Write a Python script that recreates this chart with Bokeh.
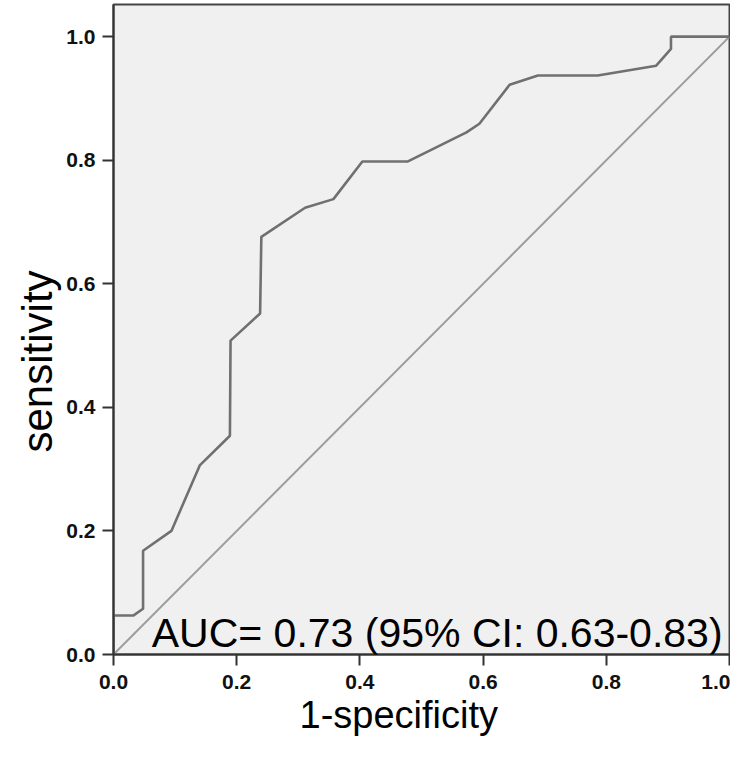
from bokeh.plotting import figure
from bokeh.models import Label, FixedTicker, Title
from bokeh.embed import file_html
from bokeh.resources import INLINE

# ROC curve points (1-specificity, sensitivity)
fpr = [0.0, 0.0, 0.032, 0.048, 0.048, 0.094, 0.14, 0.189, 0.19, 0.238, 0.24,
       0.311, 0.357, 0.404, 0.478, 0.573, 0.594, 0.643, 0.689, 0.786, 0.881,
       0.905, 0.905, 1.0]
tpr = [0.0, 0.063, 0.063, 0.074, 0.168, 0.2, 0.306, 0.354, 0.508, 0.552, 0.676,
       0.723, 0.737, 0.798, 0.798, 0.845, 0.859, 0.922, 0.937, 0.937, 0.953,
       0.98, 1.0, 1.0]
ref_x = [0.0, 1.0]
ref_y = [0.0, 1.0]
ticks = [0.0, 0.2, 0.4, 0.6, 0.8, 1.0]
tick_labels = {0.0: "0.0", 0.2: "0.2", 0.4: "0.4", 0.6: "0.6", 0.8: "0.8", 1.0: "1.0"}
auc_text = "AUC= 0.73 (95% CI: 0.63-0.83)"
x_title = "1-specificity"
y_title = "sensitivity"

p = figure(width=730, height=741, output_backend="svg", toolbar_location=None,
           x_range=(0, 1.0), y_range=(0, 1.052),
           min_border_left=113, min_border_right=1, min_border_top=4,
           min_border_bottom=87)
p.background_fill_color = "#f0f0f0"
p.border_fill_color = "white"
p.outline_line_color = "#444444"
p.outline_line_width = 2
p.grid.visible = False

for ax in (p.xaxis[0], p.yaxis[0]):
    ax.ticker = FixedTicker(ticks=ticks)
    ax.major_label_overrides = tick_labels
    ax.axis_line_color = "#333333"
    ax.axis_line_width = 2
    ax.major_tick_line_color = "#333333"
    ax.major_tick_line_width = 2
    ax.major_tick_in = 0
    ax.major_tick_out = 11
    ax.minor_tick_line_color = None
    ax.major_label_text_font = "Liberation Sans"
    ax.major_label_text_font_style = "bold"
    ax.major_label_text_font_size = "21px"
    ax.major_label_text_color = "#111111"
p.xaxis[0].major_label_standoff = 9
p.yaxis[0].major_label_standoff = 7

p.line(ref_x, ref_y, line_color="#9c9c9c", line_width=2)
p.line(fpr, tpr, line_color="#707070", line_width=2.6)

p.add_layout(Label(x=0.062, y=0.034, text=auc_text, text_font="Liberation Sans",
                   text_font_size="41px", text_color="black",
                   text_align="left", text_baseline="alphabetic"))

p.add_layout(Title(text=x_title, align="left", offset=186, standoff=0,
                   text_font="Liberation Sans", text_font_size="38px",
                   text_font_style="normal", text_color="black"), "below")
p.add_layout(Title(text=y_title, align="left", offset=202, standoff=6,
                   text_font="Liberation Sans", text_font_size="42px",
                   text_font_style="normal", text_color="black"), "left")

open("out.html", "w").write(file_html(p, INLINE))
